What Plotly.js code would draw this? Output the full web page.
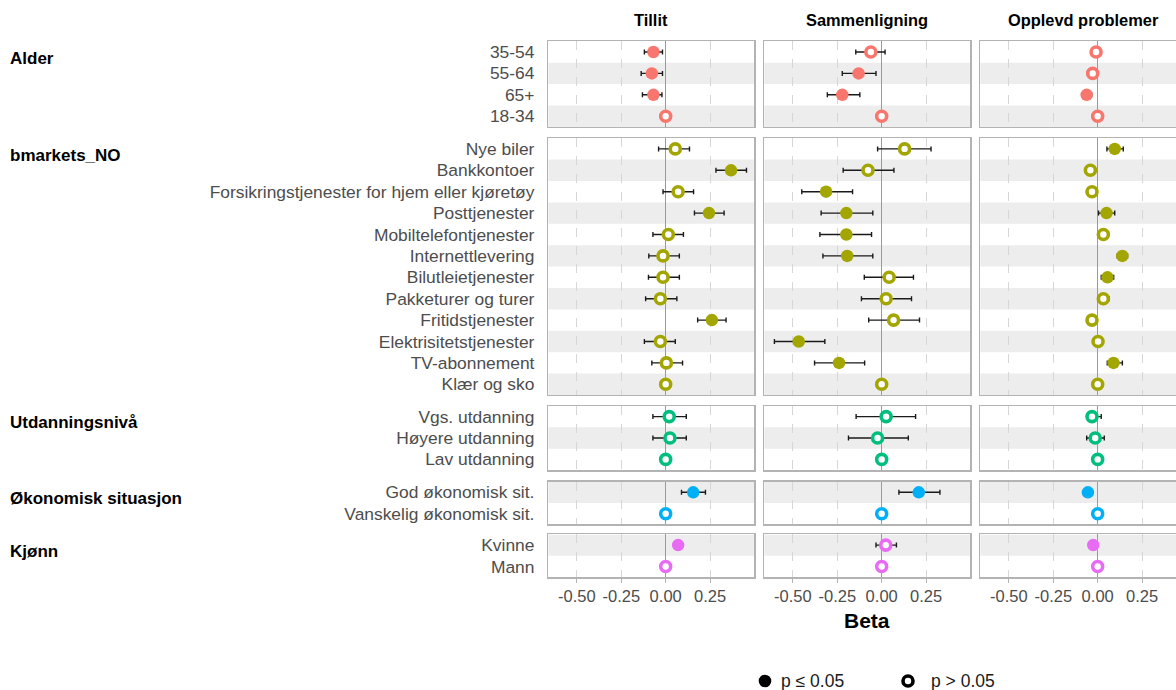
<!DOCTYPE html>
<html>
<head>
<meta charset="utf-8">
<script src="https://cdn.plot.ly/plotly-3.0.1.min.js"></script>
<style>
html,body{margin:0;padding:0;overflow:hidden;background:#fff;}
#chart{width:1200px;height:690px;}
</style>
</head>
<body>
<div id="chart"></div>
<script>
// ---------- DATA ----------
const panelTitles = ["Tillit", "Sammenligning", "Opplevd problemer"];
const groupNames = ["Alder", "bmarkets_NO", "Utdanningsnivå", "Økonomisk situasjon", "Kjønn"];
const alderCats = ["35-54", "55-64", "65+", "18-34"];
const bmarketCats = ["Nye biler", "Bankkontoer", "Forsikringstjenester for hjem eller kjøretøy", "Posttjenester",
  "Mobiltelefontjenester", "Internettlevering", "Bilutleietjenester", "Pakketurer og turer",
  "Fritidstjenester", "Elektrisitetstjenester", "TV-abonnement", "Klær og sko"];
const utdCats = ["Vgs. utdanning", "Høyere utdanning", "Lav utdanning"];
const okonCats = ["God økonomisk sit.", "Vanskelig økonomisk sit."];
const kjonnCats = ["Kvinne", "Mann"];
const groupColors = ["#F8766D", "#A3A500", "#00BF7D", "#00B0F6", "#E76BF3"];
const xTickVals = [-0.5, -0.25, 0, 0.25];
const xTickText = ["-0.50", "-0.25", "0.00", "0.25"];
const legendLabels = ["p ≤ 0.05", "p > 0.05"];

// rows in order: Alder(4), bmarkets(12), Utdanning(3), Økonomisk(2), Kjønn(2)
const tillitBeta = [-0.069, -0.078, -0.069, 0,
  0.054, 0.368, 0.070, 0.244, 0.015, -0.015, -0.015, -0.030, 0.260, -0.030, 0.004, 0,
  0.020, 0.024, 0,
  0.155, 0,
  0.070, 0];
const tillitLo = [-0.120, -0.138, -0.131, null,
  -0.040, 0.283, -0.015, 0.162, -0.072, -0.095, -0.097, -0.113, 0.180, -0.120, -0.078, null,
  -0.072, -0.072, null,
  0.089, null,
  0.045, null];
const tillitHi = [-0.018, -0.018, -0.021, null,
  0.134, 0.455, 0.157, 0.329, 0.100, 0.077, 0.077, 0.063, 0.340, 0.054, 0.095, null,
  0.116, 0.116, null,
  0.224, null,
  0.095, null];
const tillitSig = [1, 1, 1, 0,
  0, 1, 0, 1, 0, 0, 0, 0, 1, 0, 0, 0,
  0, 0, 0,
  1, 0,
  1, 0];

const sammenBeta = [-0.061, -0.130, -0.222, 0,
  0.129, -0.077, -0.313, -0.199, -0.199, -0.194, 0.042, 0.025, 0.067, -0.467, -0.240, 0,
  0.025, -0.023, 0,
  0.209, 0,
  0.023, 0];
const sammenLo = [-0.146, -0.222, -0.306, null,
  -0.023, -0.217, -0.450, -0.341, -0.348, -0.331, -0.098, -0.114, -0.073, -0.604, -0.378, null,
  -0.144, -0.187, null,
  0.097, null,
  -0.032, null];
const sammenHi = [0.019, -0.032, -0.123, null,
  0.278, 0.069, -0.164, -0.050, -0.057, -0.050, 0.179, 0.168, 0.213, -0.320, -0.096, null,
  0.191, 0.150, null,
  0.328, null,
  0.083, null];
const sammenSig = [0, 1, 1, 0,
  0, 0, 1, 1, 1, 1, 0, 0, 0, 1, 1, 0,
  0, 0, 0,
  1, 0,
  0, 0];

const opplevdBeta = [-0.009, -0.028, -0.062, 0,
  0.096, -0.041, -0.032, 0.050, 0.032, 0.139, 0.055, 0.032, -0.032, 0.002, 0.089, 0,
  -0.032, -0.014, 0,
  -0.055, 0,
  -0.025, 0];
const opplevdLo = [-0.035, -0.055, -0.090, null,
  0.052, -0.070, -0.060, 0.005, 0.005, 0.110, 0.020, 0.000, -0.060, -0.025, 0.054, null,
  -0.060, -0.062, null,
  -0.080, null,
  -0.050, null];
const opplevdHi = [0.017, 0.000, -0.034, null,
  0.144, -0.012, -0.004, 0.096, 0.060, 0.168, 0.090, 0.064, -0.004, 0.030, 0.139, null,
  0.020, 0.037, null,
  -0.030, null,
  0.000, null];
const opplevdSig = [0, 0, 1, 0,
  1, 0, 0, 1, 0, 1, 1, 0, 0, 0, 1, 0,
  0, 0, 0,
  1, 0,
  1, 0];

// ---------- LAYOUT GEOMETRY ----------
const W = 1200, H = 690;
const FONT = "Liberation Sans, Arial, Helvetica, sans-serif";
const colLeft = [548.3, 764.3, 980.3];
const colW = 206;
const rowTop = [41.3, 138.2, 405.9, 481.6, 534.4];
const unit = 21.4;
const xRange = [-0.661, 0.499];

const groupCats = [alderCats, bmarketCats, utdCats, okonCats, kjonnCats];
const panelData = [
  {beta: tillitBeta, lo: tillitLo, hi: tillitHi, sig: tillitSig},
  {beta: sammenBeta, lo: sammenLo, hi: sammenHi, sig: sammenSig},
  {beta: opplevdBeta, lo: opplevdLo, hi: opplevdHi, sig: opplevdSig}
];

const traces = [];
const layout = {
  width: W, height: H,
  margin: {l: 0, r: 0, t: 0, b: 0, autoexpand: false},
  paper_bgcolor: "#ffffff",
  plot_bgcolor: "rgba(0,0,0,0)",
  font: {family: FONT, color: "#000"},
  showlegend: false,
  shapes: [],
  annotations: []
};

let offset = 0;
let globalRow = 0;
for (let r = 0; r < groupCats.length; r++) {
  const cats = groupCats[r];
  const n = cats.length;
  const top = rowTop[r], bottom = top + n * unit;
  for (let c = 0; c < 3; c++) {
    const idx = r * 3 + c + 1;
    const xa = "xaxis" + idx, ya = "yaxis" + idx;
    const xr = "x" + idx, yr = "y" + idx;
    layout[xa] = {
      domain: [colLeft[c] / W, (colLeft[c] + colW) / W],
      anchor: yr,
      range: xRange,
      tickvals: xTickVals,
      ticktext: xTickText,
      showticklabels: r === groupCats.length - 1,
      ticks: r === groupCats.length - 1 ? "outside" : "",
      ticklen: 4, tickcolor: "#b3b3b3", tickwidth: 1,
      tickfont: {family: FONT, size: 16.5, color: "#4d4d4d"},
      showgrid: true, gridcolor: "#d6d6d6", gridwidth: 1, griddash: "dash",
      zeroline: true, zerolinecolor: "#9a9a9a", zerolinewidth: 1.6,
      showline: true, mirror: true, linecolor: "#b3b3b3", linewidth: 1.4,
      automargin: false, fixedrange: true
    };
    layout[ya] = {
      domain: [1 - bottom / H, 1 - top / H],
      anchor: xr,
      type: "category",
      categoryarray: cats,
      categoryorder: "array",
      range: [n - 0.5, -0.5],
      autorange: false,
      showgrid: false, zeroline: false,
      showline: true, mirror: true, linecolor: "#b3b3b3", linewidth: 1.4,
      showticklabels: c === 0,
      ticks: "",
      ticklabelstandoff: 9,
      tickfont: {family: FONT, size: 17.4, color: "#4d4d4d"},
      automargin: false, fixedrange: true
    };
    // alternating row bands
    for (let i = 0; i < n; i++) {
      if ((globalRow + i) % 2 === 1) {
        layout.shapes.push({
          type: "rect", layer: "below",
          xref: xr + " domain", x0: 0, x1: 1,
          yref: yr, y0: i - 0.5, y1: i + 0.5,
          fillcolor: "#ededed", line: {width: 0}
        });
      }
    }
    // points
    const d = panelData[c];
    const xs = [], ys = [], ep = [], em = [], mc = [], ms = [], mlw = [];
    for (let i = 0; i < n; i++) {
      const k = offset + i;
      xs.push(d.beta[k]);
      ys.push(cats[i]);
      if (d.lo[k] === null) { ep.push(NaN); em.push(NaN); }
      else { ep.push(d.hi[k] - d.beta[k]); em.push(d.beta[k] - d.lo[k]); }
      const filled = d.sig[k] === 1;
      mc.push(filled ? groupColors[r] : "#ffffff");
      ms.push(filled ? 12.5 : 10);
      mlw.push(filled ? 0 : 3.6);
    }
    traces.push({
      type: "scatter", mode: "markers",
      x: xs, y: ys, xaxis: xr, yaxis: yr,
      showlegend: false, hoverinfo: "x+y",
      error_x: {type: "data", symmetric: false, array: ep, arrayminus: em,
        color: "#1a1a1a", thickness: 1.4, width: 2.5},
      marker: {symbol: "circle", color: mc, size: ms, opacity: 1,
        line: {color: groupColors[r], width: mlw}}
    });
  }
  // group label
  layout.annotations.push({
    xref: "paper", yref: "paper", x: 7.5 / W, y: 1 - (top + 17) / H,
    xanchor: "left", yanchor: "middle", showarrow: false,
    text: "<b>" + groupNames[r] + "</b>",
    font: {family: FONT, size: 17, color: "#000"}
  });
  offset += n;
  globalRow += n;
}

// facet strip titles
for (let c = 0; c < 3; c++) {
  layout.annotations.push({
    xref: "paper", yref: "paper", x: (colLeft[c] + colW / 2) / W, y: 1 - 20 / H,
    xanchor: "center", yanchor: "middle", showarrow: false,
    text: "<b>" + panelTitles[c] + "</b>",
    font: {family: FONT, size: 16.4, color: "#000"}
  });
}
// x axis title
layout.annotations.push({
  xref: "paper", yref: "paper", x: (colLeft[1] + colW / 2) / W, y: 1 - 620 / H,
  xanchor: "center", yanchor: "middle", showarrow: false,
  text: "<b>Beta</b>",
  font: {family: FONT, size: 21, color: "#000"}
});

// legend (drawn manually: symbol + text)
const legY = 1 - 681 / H;
const legSymX = [765, 908];
const legTextX = [779, 929];
legendLabels.forEach((lab, i) => {
  const filled = i === 0;
  const rad = filled ? 6.3 : 5;
  layout.shapes.push({
    type: "circle", xref: "paper", yref: "paper",
    xsizemode: "pixel", ysizemode: "pixel",
    xanchor: legSymX[i] / W, yanchor: legY,
    x0: -rad, x1: rad, y0: -rad, y1: rad,
    fillcolor: filled ? "#000" : "#fff",
    line: {color: "#000", width: filled ? 0 : 3.6}
  });
  layout.annotations.push({
    xref: "paper", yref: "paper", x: legTextX[i] / W, y: legY,
    xanchor: "left", yanchor: "middle", showarrow: false,
    text: lab, font: {family: FONT, size: 17.5, color: "#1a1a1a"}
  });
});

Plotly.newPlot("chart", traces, layout, {displayModeBar: false, staticPlot: true});
</script>
</body>
</html>
